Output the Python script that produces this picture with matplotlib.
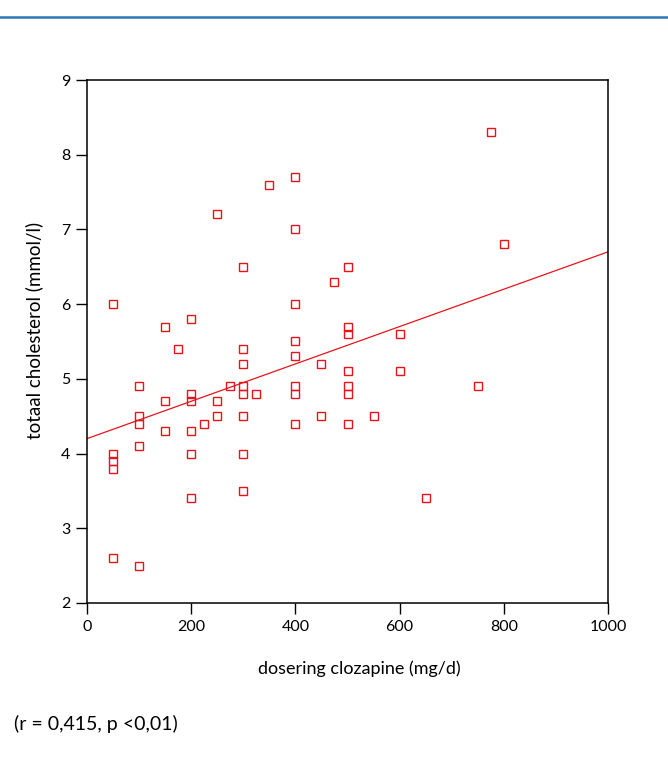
import numpy as np
import matplotlib
matplotlib.use("Agg")
import matplotlib.pyplot as plt

plt.rcParams['font.family'] = ['Lato', 'DejaVu Sans']

# clozapine dose (mg/d) and total cholesterol (mmol/l)
dose = [50, 50, 50, 50, 50,
        100, 100, 100, 100, 100,
        150, 150, 150,
        175,
        200, 200, 200, 200, 200, 200,
        225,
        250, 250, 250,
        275,
        300, 300, 300, 300, 300, 300, 300, 300,
        325,
        350,
        400, 400, 400, 400, 400, 400, 400, 400,
        450, 450,
        475,
        500, 500, 500, 500, 500, 500, 500,
        550,
        600, 600,
        650,
        750,
        775,
        800]
cholesterol = [6.0, 4.0, 3.9, 3.8, 2.6,
               4.9, 4.5, 4.4, 4.1, 2.5,
               5.7, 4.7, 4.3,
               5.4,
               5.8, 4.8, 4.7, 4.3, 4.0, 3.4,
               4.4,
               7.2, 4.7, 4.5,
               4.9,
               6.5, 5.4, 5.2, 4.9, 4.8, 4.5, 4.0, 3.5,
               4.8,
               7.6,
               7.7, 7.0, 6.0, 5.5, 5.3, 4.9, 4.8, 4.4,
               5.2, 4.5,
               6.3,
               6.5, 5.7, 5.6, 5.1, 4.9, 4.8, 4.4,
               4.5,
               5.6, 5.1,
               3.4,
               4.9,
               8.3,
               6.8]

# regression line as drawn
fit_intercept = 4.2
fit_slope = 0.0025

x_ticks = [0, 200, 400, 600, 800, 1000]
y_ticks = [2, 3, 4, 5, 6, 7, 8, 9]

red = '#e8141c'

fig = plt.figure(figsize=(6.68, 7.58), dpi=100)
ax = fig.add_axes([87 / 668, 1 - 603 / 758, 521 / 668, 523 / 758])

ax.plot(dose, cholesterol, linestyle='none', marker='s', markersize=5.2,
        markerfacecolor='none', markeredgecolor=red, markeredgewidth=1.0)

xl = np.array([0, 1000])
ax.plot(xl, fit_intercept + fit_slope * xl, color=red, linewidth=0.9)

ax.set_xlim(0, 1000)
ax.set_ylim(2, 9)
ax.set_xticks(x_ticks)
ax.set_yticks(y_ticks)
ax.tick_params(direction='out', length=8, width=1, labelsize=11.5, pad=4)
for s in ax.spines.values():
    s.set_linewidth(1.1)
    s.set_color('black')

ax.set_xlabel('dosering clozapine (mg/d)', fontsize=13)
ax.set_ylabel('totaal cholesterol (mmol/l)', fontsize=13.5)
ax.xaxis.set_label_coords(0.522, -0.110)
ax.yaxis.set_label_coords(-0.085, 0.522)

# blue rule at the top of the page
fig.add_artist(plt.Line2D([0, 1], [1 - 17 / 758, 1 - 17 / 758],
                          color='#2f78b8', linewidth=1.8))

fig.text(14 / 668, 1 - 724 / 758, '(r = 0,415, p <0,01)', fontsize=14,
         va='center', ha='left')

fig.savefig('out.png', dpi=100)
